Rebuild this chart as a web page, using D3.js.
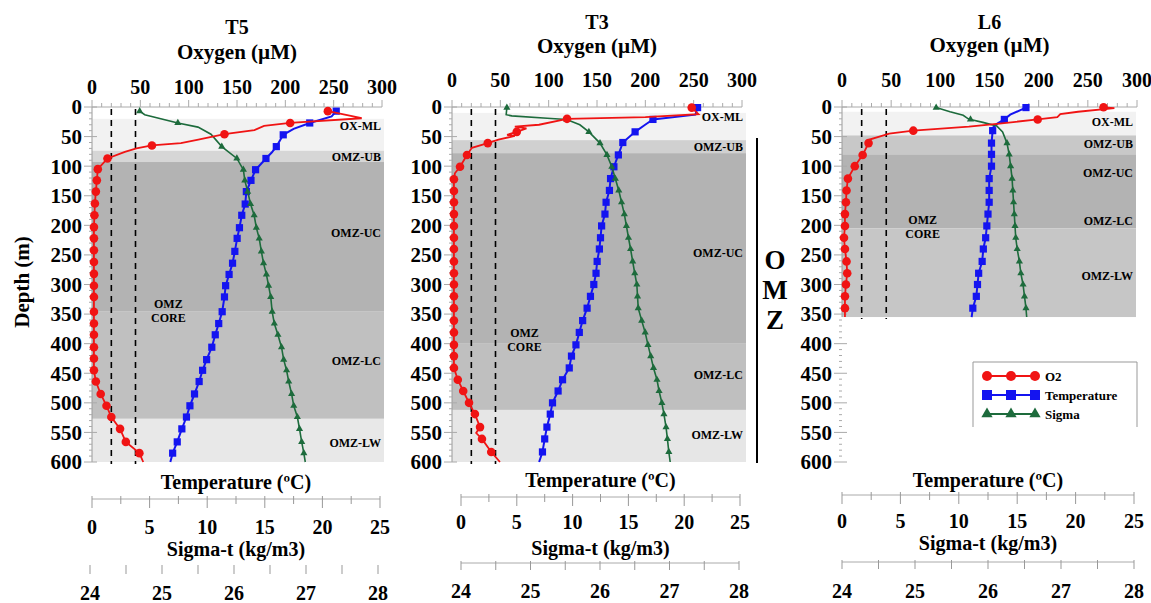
<!DOCTYPE html>
<html lang="en">
<head>
    <meta charset="UTF-8">
    <title>OMZ profiles T5 / T3 / L6</title>
    <script src="https://cdnjs.cloudflare.com/ajax/libs/d3/7.8.5/d3.min.js"></script>
    <style>
        body { margin: 0; background: #fff; }
        svg { display: block; }
        text { font-family: "Liberation Serif", "DejaVu Serif", serif; font-weight: bold; fill: #000; }
    </style>
</head>
<body>
<div id="chart"></div>
<script>
    // ---- data: [depth (m), value, sample marker?] ----
    const t5O2 = [[7,244,1],[19,279,0],[27,205,1],[32,178,0],[39,168,0],[46,137,1],[55,110,0],[61,92,0],[65,62,1],[70,46,0],[76,34,0],[87,16,1],[105,6,1],[124,5,1],[143,4,1],[163,3,1],[183,2.5,1],[203,2,1],[222,2,1],[242,2,1],[262,2,1],[282,2,1],[302,2,1],[321,2,1],[346,2,1],[366,2,1],[385,2,1],[406,2,1],[425,2,1],[445,2,1],[464,4,1],[485,9,1],[505,15,1],[524,20,1],[544,29,1],[566,35,1],[585,49,1],[600,53,0]];
    const t5Temp = [[7,21.2,1],[16,20.8,0],[27,18.9,1],[37,17.5,0],[47,16.6,1],[57,16.3,0],[67,16.0,1],[77,15.6,0],[87,15.1,1],[106,14.2,1],[124,13.8,1],[143,13.4,1],[164,13.3,1],[183,13.0,1],[204,12.8,1],[222,12.6,1],[244,12.4,1],[264,12.2,1],[283,11.9,1],[302,11.6,1],[321,11.5,1],[346,11.3,1],[366,11.0,1],[385,10.7,1],[406,10.4,1],[427,9.95,1],[445,9.6,1],[464,9.3,1],[485,8.9,1],[505,8.5,1],[524,8.2,1],[544,7.8,1],[566,7.4,1],[585,7.0,1],[600,6.8,0]];
    const t5Sigma = [[7,24.69,1],[13,24.76,0],[27,25.22,1],[34,25.5,0],[46,25.68,0],[67,25.83,1],[87,26.04,1],[106,26.13,1],[124,26.15,1],[143,26.19,1],[164,26.23,1],[183,26.28,1],[204,26.31,1],[222,26.35,1],[244,26.38,1],[264,26.41,1],[283,26.45,1],[302,26.48,1],[321,26.51,1],[346,26.53,1],[366,26.56,1],[385,26.61,1],[406,26.66,1],[427,26.69,1],[445,26.73,1],[464,26.76,1],[485,26.80,1],[505,26.83,1],[524,26.88,1],[544,26.91,1],[566,26.94,1],[585,26.97,1],[600,26.99,0]];

    const t3O2 = [[1,248,1],[12,255,0],[17,200,0],[20,119,1],[30,90,0],[33,65,0],[36,77,0],[42,67,1],[47,57,0],[49,65,0],[55,48,0],[61,37,1],[69,20.6,0],[81,15.5,1],[101,8.3,1],[112,3,0],[122,2,1],[142,2,1],[161,2,1],[181,2,1],[201,2,1],[221,2,1],[240,2,1],[261,2,1],[281,2,1],[300,2,1],[320,2,1],[340,2,1],[361,2,1],[381,2,1],[402,2,1],[421,2,1],[441,2,1],[461,6,1],[480,11.6,1],[500,17.6,1],[519,23.7,1],[541,29,1],[551,25,0],[561,31,1],[583,40.6,1],[600,49.6,0]];
    const t3Temp = [[1,21.2,1],[13,21.0,0],[21,17.2,1],[30,16.5,0],[42,15.6,1],[60,14.5,1],[81,14.1,1],[101,13.7,1],[121,13.4,1],[141,13.3,1],[161,13.0,1],[181,12.9,1],[201,12.6,1],[221,12.5,1],[240,12.4,1],[261,12.2,1],[281,12.1,1],[300,11.9,1],[320,11.6,1],[340,11.3,1],[361,10.9,1],[381,10.6,1],[402,10.3,1],[421,9.9,1],[441,9.7,1],[461,9.1,1],[480,8.7,1],[500,8.2,1],[519,8.0,1],[541,7.7,1],[561,7.5,1],[583,7.3,1],[600,7.0,0]];
    const t3Sigma = [[1,24.66,1],[13,24.65,0],[15,24.73,0],[19,25.24,0],[21,25.52,1],[30,25.71,0],[42,25.84,1],[61,26.0,1],[81,26.1,1],[101,26.17,1],[121,26.22,1],[141,26.27,1],[161,26.31,1],[181,26.35,1],[201,26.38,1],[221,26.41,1],[240,26.44,1],[261,26.47,1],[281,26.50,1],[300,26.53,1],[320,26.54,1],[340,26.55,1],[361,26.60,1],[381,26.65,1],[402,26.69,1],[421,26.73,1],[441,26.77,1],[461,26.82,1],[480,26.85,1],[500,26.89,1],[519,26.92,1],[541,26.95,1],[561,26.97,1],[583,26.99,1],[600,27.01,0]];

    const l6O2 = [[0.5,266,1],[2,277,0],[8,240,0],[12,222,0],[17,219,0],[21,199,1],[28,160,0],[33,129,0],[40,72.5,1],[45,48,0],[50,38,0],[55,28,0],[61,27,1],[81,21,1],[100,13,1],[121,6,1],[141,4.6,1],[161,4,1],[181,3,1],[201,3,1],[221,2,1],[240,3,1],[261,4.6,1],[281,5.3,1],[300,4,1],[320,3,1],[340,3,1],[355,3,0]];
    const l6Temp = [[1,15.75,1],[13,14.4,0],[21,13.9,1],[28,13.3,0],[37,12.8,0],[40,12.9,1],[61,12.8,1],[80,12.8,1],[100,12.8,1],[121,12.6,1],[141,12.6,1],[161,12.6,1],[181,12.5,1],[201,12.4,1],[221,12.3,1],[240,12.1,1],[261,12.0,1],[281,11.7,1],[300,11.6,1],[320,11.5,1],[340,11.2,1],[355,11.1,0]];
    const l6Sigma = [[1,25.29,1],[8,25.48,0],[14,25.66,0],[20,25.73,0],[21,25.76,1],[26,25.93,0],[32,26.12,0],[42,26.2,0],[61,26.26,1],[80,26.29,1],[100,26.31,1],[121,26.33,1],[141,26.34,1],[161,26.35,1],[181,26.36,1],[201,26.37,1],[221,26.38,1],[240,26.40,1],[261,26.43,1],[281,26.45,1],[300,26.48,1],[320,26.50,1],[340,26.52,1],[355,26.53,0]];

    // zone depth bands [top, bottom] and zone labels [name, depth]
    const t5Bands = [[20,74],[74,93],[93,345],[345,527],[527,600]];
    const t3Bands = [[10,56],[56,78],[78,399],[399,512],[512,600]];
    const l6Bands = [[8,48],[48,80],[80,205],[205,355]];
    const t5Zones = [["OX-ML",32],["OMZ-UB",84],["OMZ-UC",213],["OMZ-LC",429],["OMZ-LW",568]];
    const t3Zones = [["OX-ML",17],["OMZ-UB",68],["OMZ-UC",247],["OMZ-LC",453],["OMZ-LW",554]];
    const l6Zones = [["OX-ML",25],["OMZ-UB",63],["OMZ-UC",112],["OMZ-LC",193],["OMZ-LW",286]];
    // OMZ core label [oxygen, depth]
    const t5Core = [79, 345];
    const t3Core = [75, 394];
    const l6Core = [82, 203];
    // dashed oxygen thresholds (µM)
    const o2Limits = [20, 45];

    const depthTicks = d3.range(0, 601, 50);
    const o2Ticks = d3.range(0, 301, 50);
    const tempTicks = d3.range(0, 26, 5);
    const sigmaTicks = [24, 25, 26, 27, 28];
    const legendItems = ["O2", "Temperature", "Sigma"];

    const colors = { o2: "#f01414", temp: "#1414f0", sigma: "#1d6b3c" };

    const panels = [
        { name: "T5", o2: t5O2, temp: t5Temp, sigma: t5Sigma, bands: t5Bands, zones: t5Zones, core: t5Core,
          fills: ["#f2f2f2", "#d6d6d6", "#b3b3b3", "#c0c0c0", "#e8e8e8"],
          ox: [92, 382], tx: [92, 380], sx: [90, 378], right: 384, maxDepth: 600,
          titleY: 27, oxTitleY: 52, oxTickY: 87, tTitleY: 482, tAxisY: 499, tTickY: 527,
          sTitleY: 549, sAxisY: 567, sTickY: 593, sLine: false },
        { name: "T3", o2: t3O2, temp: t3Temp, sigma: t3Sigma, bands: t3Bands, zones: t3Zones, core: t3Core,
          fills: ["#f2f2f2", "#d0d0d0", "#b3b3b3", "#bfbfbf", "#e6e6e6"],
          ox: [452, 742], tx: [461, 740], sx: [461, 739], right: 746, maxDepth: 600,
          titleY: 22, oxTitleY: 46, oxTickY: 80, tTitleY: 480, tAxisY: 497, tTickY: 522,
          sTitleY: 548, sAxisY: 563, sTickY: 591, sLine: true },
        { name: "L6", o2: l6O2, temp: l6Temp, sigma: l6Sigma, bands: l6Bands, zones: l6Zones, core: l6Core,
          fills: ["#f2f2f2", "#c8c8c8", "#b3b3b3", "#c6c6c6"],
          ox: [842, 1137], tx: [842, 1134], sx: [842, 1134], right: 1136, maxDepth: 355,
          titleY: 22, oxTitleY: 45, oxTickY: 80, tTitleY: 480, tAxisY: 495, tTickY: 521,
          sTitleY: 543, sAxisY: 562, sTickY: 591, sLine: true }
    ];

    const width = 1151, height = 603;
    const svg = d3.select("#chart").append("svg")
        .attr("width", width).attr("height", height);

    const y = d3.scaleLinear().domain([0, 600]).range([107, 462]);

    function drawMarker(sel, kind, color) {
        if (kind === "o2") {
            sel.append("circle").attr("r", 4.3).attr("fill", color);
        } else if (kind === "temp") {
            sel.append("rect").attr("x", -3.6).attr("y", -3.6).attr("width", 7.2).attr("height", 7.2).attr("fill", color);
        } else {
            sel.append("path").attr("d", d3.symbol(d3.symbolTriangle, 22)()).attr("fill", color);
        }
    }

    panels.forEach(p => {
        const g = svg.append("g");
        const xO = d3.scaleLinear().domain([0, 300]).range(p.ox);
        const xT = d3.scaleLinear().domain([0, 25]).range(p.tx);
        const xS = d3.scaleLinear().domain([24, 28]).range(p.sx);
        const left = p.ox[0];
        const midTop = (p.ox[0] + p.ox[1]) / 2;
        const midBottom = (p.tx[0] + p.tx[1]) / 2;

        // zone shading
        g.append("g").selectAll("rect")
            .data(p.bands)
            .join("rect")
            .attr("x", left)
            .attr("width", p.right - left)
            .attr("y", d => y(d[0]))
            .attr("height", d => y(d[1]) - y(d[0]))
            .attr("fill", (d, i) => p.fills[i]);

        // titles
        g.append("text").attr("x", midTop).attr("y", p.titleY).attr("dy", "0.35em")
            .attr("text-anchor", "middle").attr("font-size", 20).text(p.name);
        g.append("text").attr("x", midTop).attr("y", p.oxTitleY).attr("dy", "0.35em")
            .attr("text-anchor", "middle").attr("font-size", 21).text("Oxygen (\u00b5M)");

        // top oxygen axis
        g.append("line").attr("x1", left).attr("x2", p.ox[1]).attr("y1", y(0)).attr("y2", y(0))
            .attr("stroke", "#aaa").attr("stroke-width", 1);
        g.append("g").selectAll("line")
            .data(d3.range(0, 301, 10))
            .join("line")
            .attr("x1", d => xO(d)).attr("x2", d => xO(d))
            .attr("y1", y(0)).attr("y2", d => y(0) - (d % 50 === 0 ? 7 : 4))
            .attr("stroke", "#aaa").attr("stroke-width", 1);
        g.append("g").selectAll("text")
            .data(o2Ticks)
            .join("text")
            .attr("x", d => xO(d)).attr("y", p.oxTickY).attr("dy", "0.35em")
            .attr("text-anchor", "middle").attr("font-size", 20)
            .text(d => d);

        // depth axis
        g.append("line").attr("x1", left).attr("x2", left)
            .attr("y1", y(0)).attr("y2", y(p.maxDepth))
            .attr("stroke", "#999").attr("stroke-width", 1);
        g.append("g").selectAll("line")
            .data(d3.range(0, 601, 10))
            .join("line")
            .attr("x1", d => left - (d % 50 === 0 ? 8 : 3))
            .attr("x2", d => d % 50 === 0 ? left + 5 : left)
            .attr("y1", d => y(d)).attr("y2", d => y(d))
            .attr("stroke", "#aaa").attr("stroke-width", 1);
        g.append("g").selectAll("text")
            .data(depthTicks)
            .join("text")
            .attr("x", left - 10).attr("y", d => y(d)).attr("dy", "0.35em")
            .attr("text-anchor", "end").attr("font-size", 21)
            .text(d => d);

        // dashed oxygen thresholds
        g.append("g").selectAll("line")
            .data(o2Limits)
            .join("line")
            .attr("x1", d => xO(d)).attr("x2", d => xO(d))
            .attr("y1", y(0) + 2).attr("y2", y(p.maxDepth) + 2)
            .attr("stroke", "#000").attr("stroke-width", 1.6)
            .attr("stroke-dasharray", "6,5");

        // zone labels
        g.append("g").selectAll("text")
            .data(p.zones)
            .join("text")
            .attr("x", p.right - 3).attr("y", d => y(d[1])).attr("dy", "0.35em")
            .attr("text-anchor", "end").attr("font-size", 12)
            .text(d => d[0]);

        const core = g.append("text").attr("text-anchor", "middle").attr("font-size", 12);
        core.append("tspan").attr("x", xO(p.core[0])).attr("y", y(p.core[1]) - 3).text("OMZ");
        core.append("tspan").attr("x", xO(p.core[0])).attr("y", y(p.core[1]) + 11).text("CORE");

        // profiles
        const series = [
            { key: "temp", data: p.temp, x: xT, w: 2 },
            { key: "sigma", data: p.sigma, x: xS, w: 1.6 },
            { key: "o2", data: p.o2, x: xO, w: 1.8 }
        ];
        series.forEach(s => {
            const line = d3.line().x(d => s.x(d[1])).y(d => y(d[0]));
            g.append("path").datum(s.data)
                .attr("d", line)
                .attr("fill", "none")
                .attr("stroke", colors[s.key])
                .attr("stroke-width", s.w);
            g.append("g").selectAll("g")
                .data(s.data.filter(d => d[2]))
                .join("g")
                .attr("transform", d => `translate(${s.x(d[1])},${y(d[0])})`)
                .call(sel => drawMarker(sel, s.key, colors[s.key]));
        });

        // bottom temperature axis
        g.append("text").attr("x", midBottom).attr("y", p.tTitleY).attr("dy", "0.35em")
            .attr("text-anchor", "middle").attr("font-size", 20).text("Temperature (\u00baC)");
        g.append("line").attr("x1", p.tx[0]).attr("x2", p.tx[1]).attr("y1", p.tAxisY).attr("y2", p.tAxisY)
            .attr("stroke", "#aaa");
        g.append("g").selectAll("line")
            .data(d3.range(0, 25.1, 2.5))
            .join("line")
            .attr("x1", d => xT(d)).attr("x2", d => xT(d))
            .attr("y1", p.tAxisY - 3).attr("y2", d => p.tAxisY + (d % 5 === 0 ? 9 : 5))
            .attr("stroke", "#999");
        g.append("g").selectAll("text")
            .data(tempTicks)
            .join("text")
            .attr("x", d => xT(d)).attr("y", p.tTickY).attr("dy", "0.35em")
            .attr("text-anchor", "middle").attr("font-size", 20)
            .text(d => d);

        // bottom sigma axis
        g.append("text").attr("x", midBottom).attr("y", p.sTitleY).attr("dy", "0.35em")
            .attr("text-anchor", "middle").attr("font-size", 20).text("Sigma-t (kg/m3)");
        if (p.sLine) {
            g.append("line").attr("x1", p.sx[0]).attr("x2", p.sx[1]).attr("y1", p.sAxisY).attr("y2", p.sAxisY)
                .attr("stroke", "#aaa");
        }
        g.append("g").selectAll("line")
            .data(d3.range(24, 28.01, 0.5))
            .join("line")
            .attr("x1", d => xS(d)).attr("x2", d => xS(d))
            .attr("y1", p.sAxisY - 2).attr("y2", p.sAxisY + 7)
            .attr("stroke", "#999");
        g.append("g").selectAll("text")
            .data(sigmaTicks)
            .join("text")
            .attr("x", d => xS(d)).attr("y", p.sTickY).attr("dy", "0.35em")
            .attr("text-anchor", "middle").attr("font-size", 20)
            .text(d => d);
    });

    // depth axis title
    svg.append("text")
        .attr("transform", "translate(22,282) rotate(-90)")
        .attr("dy", "0.35em")
        .attr("text-anchor", "middle").attr("font-size", 21)
        .text("Depth (m)");

    // OMZ bracket between T3 and L6
    svg.append("line").attr("x1", 757).attr("x2", 757).attr("y1", 138).attr("y2", 463)
        .attr("stroke", "#000").attr("stroke-width", 2);
    svg.append("g").selectAll("text")
        .data(["O", "M", "Z"])
        .join("text")
        .attr("x", 775).attr("y", (d, i) => 260 + i * 30).attr("dy", "0.35em")
        .attr("text-anchor", "middle").attr("font-size", 27)
        .text(d => d);

    // legend
    const lg = svg.append("g");
    lg.append("path").attr("d", "M973,427V362H1137V427")
        .attr("fill", "none").attr("stroke", "#999").attr("stroke-width", 1);
    const legendKeys = ["o2", "temp", "sigma"];
    legendItems.forEach((label, i) => {
        const ly = 376 + i * 19;
        const key = legendKeys[i];
        lg.append("line").attr("x1", 987).attr("x2", 1035).attr("y1", ly).attr("y2", ly)
            .attr("stroke", colors[key]).attr("stroke-width", 1.8);
        lg.selectAll(null)
            .data([987, 1011, 1035])
            .join("g")
            .attr("transform", d => `translate(${d},${ly})`)
            .call(sel => {
                if (key === "o2") sel.append("circle").attr("r", 5).attr("fill", colors[key]);
                else if (key === "temp") sel.append("rect").attr("x", -5).attr("y", -5).attr("width", 10).attr("height", 10).attr("fill", colors[key]);
                else sel.append("path").attr("d", d3.symbol(d3.symbolTriangle, 55)()).attr("fill", colors[key]);
            });
        lg.append("text").attr("x", 1045).attr("y", ly).attr("dy", "0.35em")
            .attr("font-size", 13).text(label);
    });
</script>
</body>
</html>
